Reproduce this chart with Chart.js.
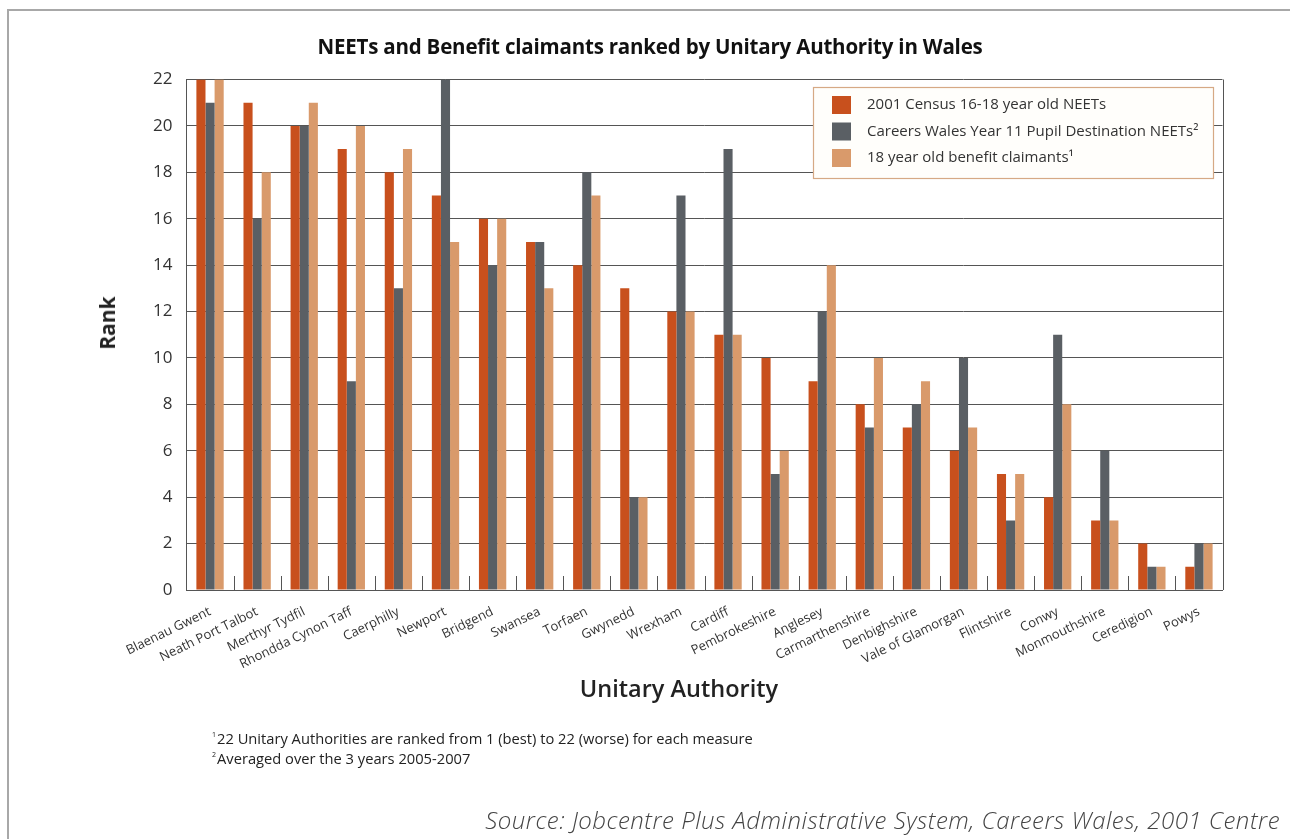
<!DOCTYPE html>
<html>
<head>
<meta charset="utf-8">
<script src="https://cdn.jsdelivr.net/npm/chart.js@4.4.1/dist/chart.umd.min.js"></script>
<style>
  html, body { margin: 0; padding: 0; background: #fff; }
  body { width: 1290px; height: 839px; position: relative; overflow: hidden; font-family: "Open Sans", sans-serif; color: #222; }
  #frame { position: absolute; left: 7px; top: 9px; width: 1400px; height: 900px; border-left: 2px solid #a8a8a8; border-top: 2px solid #a8a8a8; }
  #wrap { position: absolute; left: 0; top: 0; width: 1290px; height: 839px; }
  #title { position: absolute; top: 32px; left: 0; width: 1300px; text-align: center; font-weight: 700; font-size: 20.5px; color: #111; letter-spacing: -0.2px; }
  #y-title { position: absolute; left: 107px; top: 323px; transform: translate(-50%, -50%) rotate(-90deg); font-weight: 700; font-size: 21px; color: #222; }
  #x-title { position: absolute; top: 672px; left: 0; width: 1358px; text-align: center; font-weight: 600; font-size: 23.5px; color: #222; }
  .note { position: absolute; left: 212px; font-size: 14.7px; color: #222; }
  .note sup { font-size: 7px; vertical-align: 7px; margin-right: 1px; }
  #source { position: absolute; right: 10px; top: 803px; font-style: italic; font-weight: 300; font-size: 24px; letter-spacing: 0.5px; color: #444; white-space: nowrap; }
</style>
</head>
<body>
<div id="frame"></div>
<div id="wrap"><canvas id="chart"></canvas></div>
<div id="title">NEETs and Benefit claimants ranked by Unitary Authority in Wales</div>
<div id="y-title">Rank</div>
<div id="x-title">Unitary Authority</div>
<div class="note" style="top:728px"><sup>1</sup>22 Unitary Authorities are ranked from 1 (best) to 22 (worse) for each measure</div>
<div class="note" style="top:748px"><sup>2</sup>Averaged over the 3 years 2005-2007</div>
<div id="source">Source: Jobcentre Plus Administrative System, Careers Wales, 2001 Centre</div>
<script>
const authorities = [
  "Blaenau Gwent", "Neath Port Talbot", "Merthyr Tydfil", "Rhondda Cynon Taff",
  "Caerphilly", "Newport", "Bridgend", "Swansea", "Torfaen", "Gwynedd", "Wrexham",
  "Cardiff", "Pembrokeshire", "Anglesey", "Carmarthenshire", "Denbighshire",
  "Vale of Glamorgan", "Flintshire", "Conwy", "Monmouthshire", "Ceredigion", "Powys",
];

const censusNeets = [22, 21, 20, 19, 18, 17, 16, 15, 14, 13, 12, 11, 10, 9, 8, 7, 6, 5, 4, 3, 2, 1];
const careersWalesNeets = [21, 16, 20, 9, 13, 22, 14, 15, 18, 4, 17, 19, 5, 12, 7, 8, 10, 3, 11, 6, 1, 2];
const benefitClaimants = [22, 18, 21, 20, 19, 15, 16, 13, 17, 4, 12, 11, 6, 14, 10, 9, 7, 5, 8, 3, 1, 2];

const seriesNames = [
  "2001 Census 16-18 year old NEETs",
  "Careers Wales Year 11 Pupil Destination NEETs\u00b2",
  "18 year old benefit claimants\u00b9",
];
const seriesColors = ["#c8501d", "#5a5f64", "#d99a6b"];

const rankMin = 0;
const rankMax = 22;
const rankStep = 2;

const lineColor = "#555";

// Cadre du graphique + petites marques entre les catégories sur l'axe x
const framePlugin = {
  id: "frame",
  beforeDatasetsDraw(chart) {
    const { ctx, chartArea: a, scales } = chart;
    ctx.save();
    ctx.strokeStyle = lineColor;
    ctx.lineWidth = 1;
    ctx.beginPath();
    ctx.moveTo(Math.round(a.right) + 0.5, a.top);
    ctx.lineTo(Math.round(a.right) + 0.5, a.bottom);
    for (let i = 1; i < authorities.length; i++) {
      const x = Math.round((scales.x.getPixelForValue(i - 1) + scales.x.getPixelForValue(i)) / 2) + 0.5;
      ctx.moveTo(x, a.bottom);
      ctx.lineTo(x, a.bottom - 14);
    }
    ctx.stroke();
    ctx.restore();
  },
};

// Légende encadrée dans le coin supérieur droit
const boxLegendPlugin = {
  id: "boxLegend",
  afterDraw(chart) {
    const { ctx } = chart;
    const box = { x: 813.5, y: 87.5, w: 400, h: 91 };
    ctx.save();
    ctx.fillStyle = "#fffefb";
    ctx.fillRect(box.x, box.y, box.w, box.h);
    ctx.strokeStyle = "#d6a985";
    ctx.lineWidth = 1.2;
    ctx.strokeRect(box.x, box.y, box.w, box.h);
    ctx.font = '15px "Open Sans", sans-serif';
    ctx.textBaseline = "middle";
    chart.data.datasets.forEach((ds, i) => {
      const cy = 105 + i * 26.5;
      ctx.fillStyle = ds.backgroundColor;
      ctx.fillRect(832, cy - 9, 19, 18);
      ctx.fillStyle = "#333";
      ctx.fillText(ds.label, 867, cy);
    });
    ctx.restore();
  },
};

new Chart(document.querySelector("#chart"), {
  type: "bar",
  data: {
    labels: authorities,
    datasets: [censusNeets, careersWalesNeets, benefitClaimants].map((data, i) => ({
      label: seriesNames[i],
      data,
      backgroundColor: seriesColors[i],
      borderWidth: 0,
      categoryPercentage: 0.58,
      barPercentage: 1,
    })),
  },
  options: {
    responsive: true,
    maintainAspectRatio: false,
    animation: false,
    layout: { padding: { left: 0, top: 79.5, right: 67.5, bottom: 149 } },
    plugins: {
      legend: { display: false },
      tooltip: { enabled: false },
    },
    scales: {
      x: {
        grid: { display: false },
        border: { display: true, color: lineColor, width: 1 },
        ticks: {
          color: "#333",
          font: { family: "Open Sans", size: 13 },
          minRotation: 26,
          maxRotation: 26,
          autoSkip: false,
          padding: 6,
        },
        afterFit: (scale) => { scale.height = 100; },
      },
      y: {
        min: rankMin,
        max: rankMax,
        grid: { color: lineColor, lineWidth: 1, drawTicks: false },
        border: { display: true, color: lineColor, width: 1 },
        ticks: {
          stepSize: rankStep,
          color: "#333",
          font: { family: "Open Sans", size: 17 },
          padding: 14,
        },
        afterFit: (scale) => { scale.width = 186.5; },
      },
    },
  },
  plugins: [framePlugin, boxLegendPlugin],
});
</script>
</body>
</html>
